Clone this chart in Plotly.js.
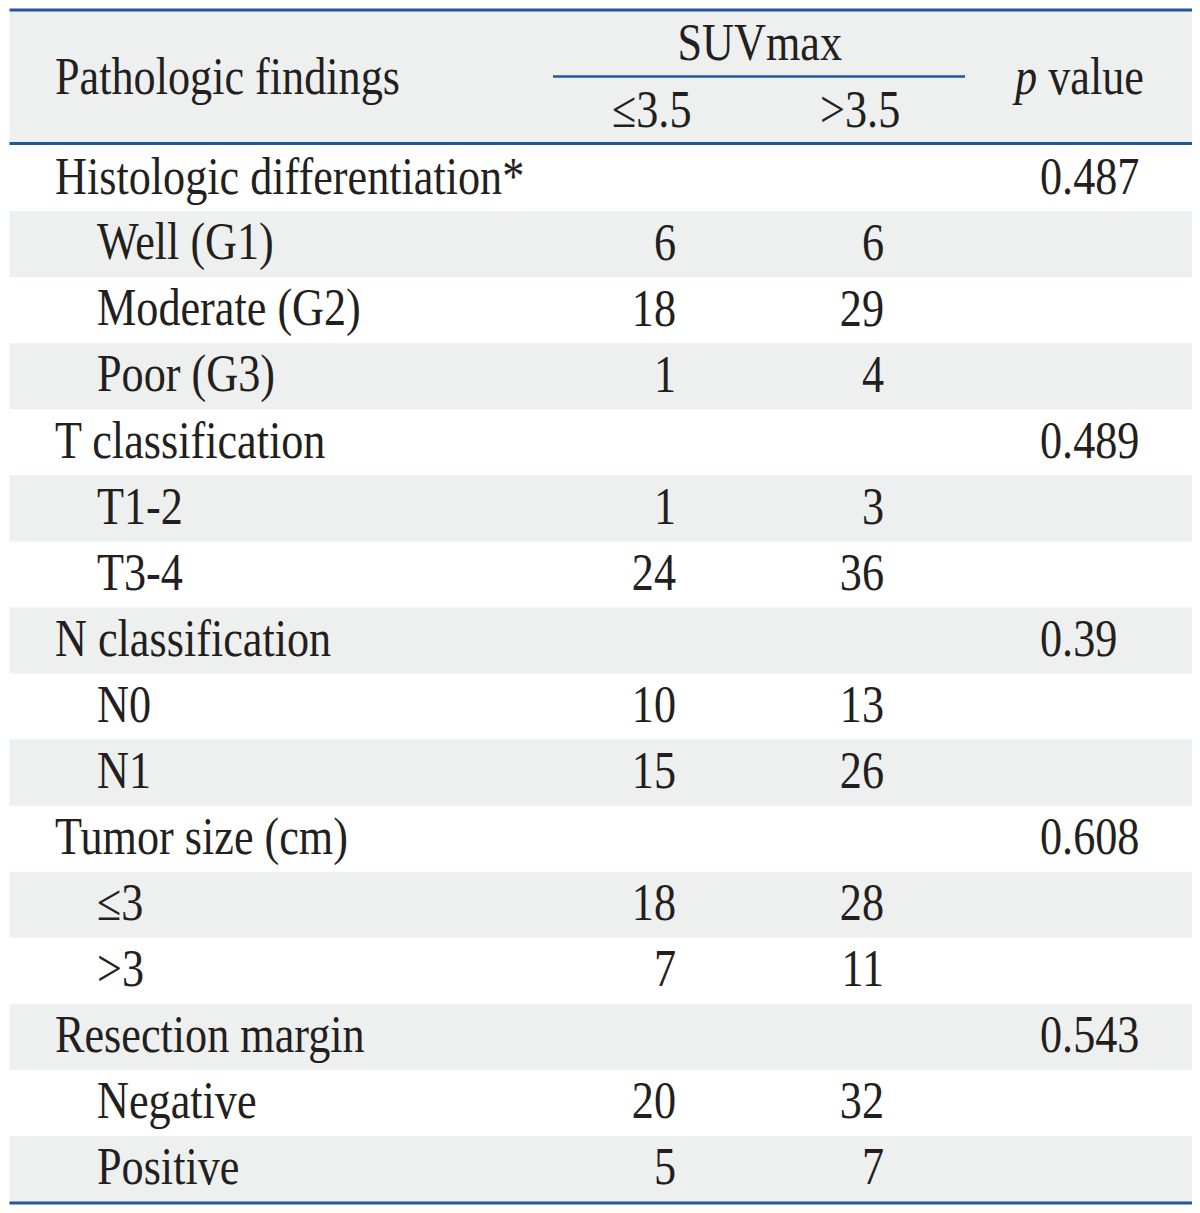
<!DOCTYPE html>
<html>
<head>
<meta charset="utf-8">
<script src="https://cdn.plot.ly/plotly-3.0.1.min.js"></script>
<style>
html,body{margin:0;padding:0;background:#fff;}
#chart{width:1200px;height:1213px;}
</style>
</head>
<body>
<div id="chart"></div>
<script>
// ---- data ----
var rowLabels = ["Histologic differentiation*","Well (G1)","Moderate (G2)","Poor (G3)",
  "T classification","T1-2","T3-4",
  "N classification","N0","N1",
  "Tumor size (cm)","\u22643",">3",
  "Resection margin","Negative","Positive"];
var rowIsGroup = [1,0,0,0, 1,0,0, 1,0,0, 1,0,0, 1,0,0];
var suvLow  = ["","6","18","1", "","1","24", "","10","15", "","18","7", "","20","5"];
var suvHigh = ["","6","29","4", "","3","36", "","13","26", "","28","11", "","32","7"];
var pValues = ["0.487","","","", "0.489","","", "0.39","","", "0.608","","", "0.543","",""];
var headerFirst = "Pathologic findings";
var headerSpan = "SUVmax";
var headerCols = ["\u22643.5", ">3.5"];
var headerP = "<i>p</i> value";

// ---- layout constants ----
var W = 1200, H = 1213;
var FONT = "Liberation Serif, Times New Roman, serif";
var FS = 52;
var SX = 0.85;          // horizontal condensation of the serif face
var TEXT = "#231f20";
var BLUE = "#22579c";
var GRAY = "#eeefef";
var tableL = 9.5, tableR = 1192;
var topLine = 10, spanLine = 76.5, headLine = 143.5, bottomLine = 1203;
var rowTop0 = 145, rowH = (bottomLine - 1 - rowTop0) / rowLabels.length;
var xGroup = 55, xSub = 97, xCol1 = 676, xCol2 = 884, xP = 1040;
var yShift = 2;         // Plotly yshift: positive moves text up

var shapes = [];
var annotations = [];

// header background
shapes.push({type:"rect", xref:"x", yref:"y", x0:tableL, x1:tableR, y0:topLine, y1:headLine,
  fillcolor:GRAY, line:{width:0}, layer:"below"});
// row backgrounds
rowLabels.forEach(function(l, i){
  if (i % 2 === 1) {
    shapes.push({type:"rect", xref:"x", yref:"y", x0:tableL, x1:tableR,
      y0:rowTop0 + i*rowH, y1:rowTop0 + (i+1)*rowH,
      fillcolor:GRAY, line:{width:0}, layer:"below"});
  }
});
// rules
function hline(y, x0, x1, w){
  shapes.push({type:"line", xref:"x", yref:"y", x0:x0, x1:x1, y0:y, y1:y,
    line:{color:BLUE, width:w}});
}
hline(topLine, tableL, tableR, 3);
hline(spanLine, 553, 965, 2.5);
hline(headLine, tableL, tableR, 3);
hline(bottomLine, tableL, tableR, 3);

function ann(text, x, y, xanchor){
  annotations.push({text:text, x:x, y:y, xref:"x", yref:"y", xanchor:xanchor, yanchor:"middle",
    showarrow:false, borderpad:0, borderwidth:0, yshift:yShift,
    font:{family:FONT, size:FS, color:TEXT}});
}
// header texts
ann(headerFirst, xGroup, 78, "left");
ann(headerSpan, 760, 44, "center");
ann(headerCols[0], 652, 111, "center");
ann(headerCols[1], 860, 111, "center");
ann(headerP, 1078, 78, "center");
// body
rowLabels.forEach(function(l, i){
  var yc = rowTop0 + (i+0.5)*rowH;
  ann(l, rowIsGroup[i] ? xGroup : xSub, yc, "left");
  if (suvLow[i]) ann(suvLow[i], xCol1, yc, "right");
  if (suvHigh[i]) ann(suvHigh[i], xCol2, yc, "right");
  if (pValues[i]) ann(pValues[i], xP, yc, "left");
});

var layout = {
  width:W, height:H, margin:{l:0,r:0,t:0,b:0},
  paper_bgcolor:"#fff", plot_bgcolor:"#fff",
  xaxis:{range:[0,W], visible:false, fixedrange:true},
  yaxis:{range:[H,0], visible:false, fixedrange:true},
  shapes:shapes, annotations:annotations, showlegend:false
};
var data = [{type:"scatter", x:[], y:[], mode:"markers", hoverinfo:"skip"}];

Plotly.newPlot("chart", data, layout, {staticPlot:true, displayModeBar:false}).then(function(gd){
  var groups = gd.querySelectorAll("g.annotation");
  groups.forEach(function(g){
    var idx = +g.getAttribute("data-index");
    var a = layout.annotations[idx];
    var t = g.querySelector("text.annotation-text");
    if (!t || !a) return;
    var bb = t.getBBox();
    var ax = a.xanchor === "right" ? bb.x + bb.width : (a.xanchor === "center" ? bb.x + bb.width/2 : bb.x);
    t.setAttribute("transform", "translate(" + ax + ",0) scale(" + SX + ",1) translate(" + (-ax) + ",0)");
  });
});
</script>
</body>
</html>
